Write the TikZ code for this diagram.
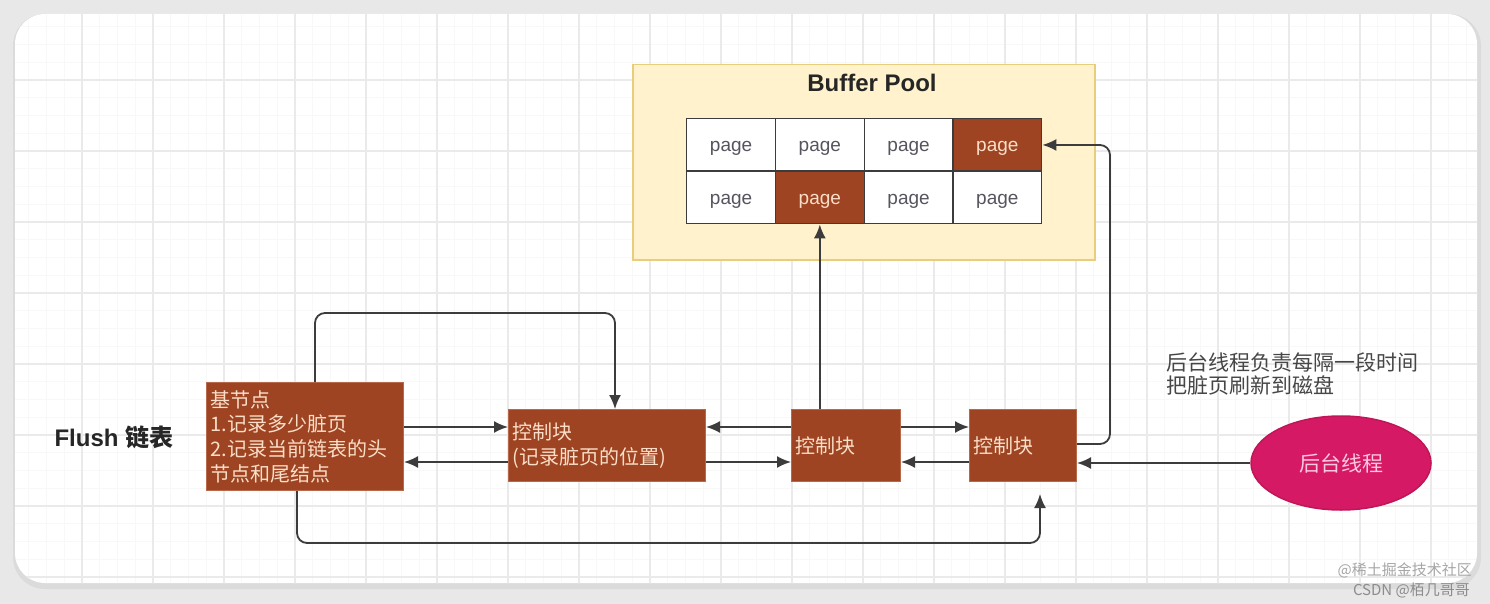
\documentclass[tikz,border=0pt]{standalone}
\usepackage{fontspec}
\setmainfont{Liberation Sans}
\newfontfamily\cjk{Noto Sans CJK SC}
\usetikzlibrary{arrows.meta,shapes.geometric}
\definecolor{dirty}{RGB}{158,68,34}
\definecolor{dirtyline}{RGB}{185,105,75}
\definecolor{dirtytext}{RGB}{250,222,200}
\definecolor{bpfill}{RGB}{255,242,204}
\definecolor{bpline}{RGB}{232,205,125}
\definecolor{thread}{RGB}{214,25,100}
\definecolor{threadline}{RGB}{192,22,88}
\definecolor{threadtext}{RGB}{255,200,225}
\definecolor{linecol}{RGB}{60,60,60}
\definecolor{pagetext}{RGB}{85,85,95}
\definecolor{bgcol}{RGB}{232,232,232}
\definecolor{gridmaj}{RGB}{234,234,234}
\definecolor{gridmin}{RGB}{248,248,248}
\definecolor{notetext}{RGB}{70,70,70}
\begin{document}
\begin{tikzpicture}[x=1pt,y=-1pt,
  brownbox/.style={draw=dirtyline, fill=dirty, line width=1, text=dirtytext,
    font=\cjk\fontsize{20}{24.7}\selectfont, align=left, inner sep=4, anchor=north west},
  cell/.style={draw=linecol, line width=1.4, fill=white, minimum width=88.75,
    minimum height=52.5, inner sep=0, text height=14, text depth=0, text=pagetext,
    font=\fontsize{19}{20}\selectfont, anchor=north west},
  dcell/.style={cell, fill=dirty, text=dirtytext},
  conn/.style={draw=linecol, line width=1.8, rounded corners=10, -{Latex[length=14,width=12]}},
]
\useasboundingbox (0,0) rectangle (1490,604);
% background and card
\fill[bgcol] (0,0) rectangle (1490,604);
\fill[black!14, rounded corners=32] (13,14) rectangle (1481,589);
\fill[white, rounded corners=30] (15,14) rectangle (1477,583);
\begin{scope}
  \clip[rounded corners=30] (15,14) rectangle (1477,583);
  \foreach \i in {0,...,84} {
    \draw[gridmin, line width=0.8] (11+17.75*\i,0) -- (11+17.75*\i,604);
  }
  \foreach \i in {0,...,33} {
    \draw[gridmin, line width=0.8] (0,9+17.75*\i) -- (1490,9+17.75*\i);
  }
  \foreach \i in {0,...,21} {
    \draw[gridmaj, line width=1.2] (11+71*\i,0) -- (11+71*\i,604);
  }
  \foreach \i in {0,...,8} {
    \draw[gridmaj, line width=1.2] (0,9+71*\i) -- (1490,9+71*\i);
  }
\end{scope}

% Buffer pool
\node[draw=bpline, fill=bpfill, line width=1.5, minimum width=462, minimum height=195,
  anchor=north west, inner sep=0] (bp) at (632,64) {};
\node[font=\bfseries\fontsize{24}{26}\selectfont, text=black!85] (bptitle) at (872,83) {Buffer Pool};
\node[cell]  (p1) at (686,118) {page};
\node[cell]  (p2) at (774.75,118) {page};
\node[cell]  (p3) at (863.5,118) {page};
\node[dcell] (p4) at (952.25,118) {page};
\node[cell]  (p5) at (686,170.5) {page};
\node[dcell] (p6) at (774.75,170.5) {page};
\node[cell]  (p7) at (863.5,170.5) {page};
\node[cell]  (p8) at (952.25,170.5) {page};

% Flush list
\node[font=\bfseries\fontsize{24}{26}\selectfont, text=black!85, anchor=west] (flush) at (51,437) {Flush {\cjk 链表}};
\node[brownbox, minimum width=197, minimum height=108, text width=189] (jd) at (206,382)
  {基节点\\1.记录多少脏页\\2.记录当前链表的头\\节点和尾结点};
\node[brownbox, minimum width=197, minimum height=72, text width=189] (c1) at (508,409)
  {控制块\\(记录脏页的位置)};
\node[brownbox, minimum width=109, minimum height=72, text width=101] (c2) at (791,409) {控制块};
\node[brownbox, minimum width=107, minimum height=72, text width=99] (c3) at (969,409) {控制块};

% background thread
\node[ellipse, fill=thread, draw=threadline, line width=1.5, minimum width=180, minimum height=94,
  text=threadtext, font=\cjk\fontsize{21}{24}\selectfont] (bgt) at (1341,463) {后台线程};
\node[anchor=west, align=left, text=notetext, font=\cjk\fontsize{21}{23.5}\selectfont, inner sep=0] (note)
  at (1166,374) {后台线程负责每隔一段时间\\把脏页刷新到磁盘};

% connectors
\coordinate (c3in) at (1040,494);
\draw[conn] (jd.north -| 315,0) -- (315,313) -- (615,313) -- (c1.north -| 615,0);
\draw[conn] (jd.east |- 0,427) -- (c1.west |- 0,427);
\draw[conn] (c1.west |- 0,462) -- (jd.east |- 0,462);
\draw[conn] (c2.west |- 0,427) -- (c1.east |- 0,427);
\draw[conn] (c1.east |- 0,462) -- (c2.west |- 0,462);
\draw[conn] (c2.east |- 0,427) -- (c3.west |- 0,427);
\draw[conn] (c3.west |- 0,462) -- (c2.east |- 0,462);
\draw[conn] (c2.north -| p6.south) -- (p6.south);
\draw[conn] (c3.east |- 0,444) -- (1110,444) -- (1110,145) -- (p4.east);
\draw[conn] (bgt.west) -- (c3.east |- bgt.west);
\draw[conn] (jd.south -| 297,0) -- (297,543) -- (1040,543) -- (c3in);

% watermark
\node[anchor=east, text=black!35, font=\cjk\fontsize{15}{16}\selectfont, inner sep=0] (wm1) at (1472,570) {@稀土掘金技术社区};
\node[anchor=east, text=black!45, font=\cjk\fontsize{15}{16}\selectfont, inner sep=0] (wm2) at (1470,590) {CSDN @栢几哥哥};
\end{tikzpicture}
\end{document}
